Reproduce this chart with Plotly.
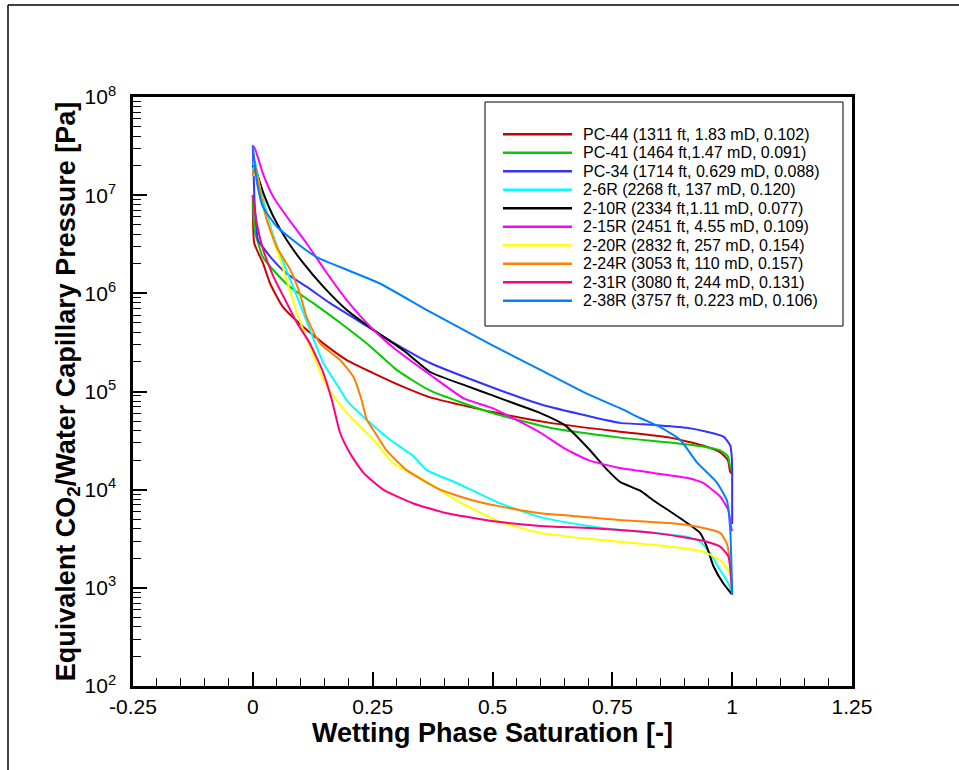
import plotly.graph_objects as go

# ---------------- data ----------------
names = [
    "PC-44 (1311 ft, 1.83 mD, 0.102)",
    "PC-41 (1464 ft,1.47 mD, 0.091)",
    "PC-34 (1714 ft, 0.629 mD, 0.088)",
    "2-6R (2268 ft, 137 mD, 0.120)",
    "2-10R (2334 ft,1.11 mD, 0.077)",
    "2-15R (2451 ft, 4.55 mD, 0.109)",
    "2-20R (2832 ft, 257 mD, 0.154)",
    "2-24R (3053 ft, 110 mD, 0.157)",
    "2-31R (3080 ft, 244 mD, 0.131)",
    "2-38R (3757 ft, 0.223 mD, 0.106)",
]
colors = ["#CC0000", "#00CC00", "#3333FF", "#00FFFF", "#000000",
          "#FF00FF", "#FFFF00", "#FF8000", "#FF0080", "#0080FF"]

sw_pc44 = [0, 0.003, 0.021, 0.036, 0.063, 0.105, 0.147, 0.196, 0.25, 0.313, 0.37, 0.5, 0.62, 0.766, 0.87, 0.939, 0.975, 0.991, 0.996, 1.0]
pc_pc44 = [1.0e7, 3.24e6, 2.04e6, 1.26e6, 7.24e5, 4.57e5, 3.09e5, 2.09e5, 1.55e5, 1.12e5, 8.71e4, 6.17e4, 4.79e4, 3.89e4, 3.39e4, 2.82e4, 2.40e4, 2.0e4, 1.51e4, 1.45e4]

sw_pc41 = [0, 0.004, 0.021, 0.042, 0.077, 0.126, 0.182, 0.245, 0.30, 0.37, 0.5, 0.62, 0.766, 0.87, 0.939, 0.975, 0.991, 0.996, 1.0]
pc_pc41 = [1.0e7, 4.37e6, 2.34e6, 1.74e6, 1.17e6, 7.94e5, 5.01e5, 2.88e5, 1.66e5, 1.02e5, 6.03e4, 4.27e4, 3.39e4, 3.02e4, 2.75e4, 2.51e4, 2.19e4, 1.70e4, 1.6e4]

sw_pc34 = [0, 0.004, 0.011, 0.021, 0.042, 0.071, 0.112, 0.161, 0.217, 0.272, 0.321, 0.37, 0.5, 0.6, 0.7, 0.766, 0.836, 0.905, 0.947, 0.982, 0.996, 0.999, 1.0, 1.0]
pc_pc34 = [3.16e7, 7.94e6, 3.47e6, 2.95e6, 2.19e6, 1.58e6, 1.17e6, 7.94e5, 5.37e5, 3.63e5, 2.63e5, 1.95e5, 1.10e5, 7.41e4, 5.62e4, 4.79e4, 4.57e4, 4.27e4, 3.89e4, 3.47e4, 2.82e4, 2.19e4, 1.58e4, 4.47e3]

sw_2_6r = [0, 0.004, 0.015, 0.029, 0.043, 0.064, 0.092, 0.119, 0.147, 0.182, 0.196, 0.238, 0.286, 0.335, 0.363, 0.425, 0.516, 0.6, 0.7, 0.766, 0.836, 0.905, 0.933, 0.954, 0.975, 0.992, 1.0]
pc_2_6r = [1.78e7, 2.29e7, 1.23e7, 6.61e6, 3.80e6, 2.04e6, 9.33e5, 4.27e5, 1.95e5, 1.05e5, 8.13e4, 5.13e4, 3.24e4, 2.19e4, 1.58e4, 1.17e4, 7.24e3, 5.25e3, 4.27e3, 3.89e3, 3.63e3, 3.31e3, 2.95e3, 2.24e3, 1.51e3, 1.12e3, 851]

sw_2_10r = [0, 0.01, 0.022, 0.043, 0.071, 0.105, 0.147, 0.196, 0.251, 0.314, 0.37, 0.45, 0.5, 0.55, 0.6, 0.65, 0.7, 0.74, 0.766, 0.808, 0.836, 0.870, 0.912, 0.933, 0.947, 0.961, 0.981, 1.0]
pc_2_10r = [2.0e7, 1.58e7, 1.05e7, 6.03e6, 3.47e6, 2.04e6, 1.17e6, 6.76e5, 4.27e5, 2.63e5, 1.58e5, 1.12e5, 9.12e4, 7.41e4, 6.03e4, 4.57e4, 2.63e4, 1.58e4, 1.20e4, 9.77e3, 7.76e3, 6.03e3, 4.37e3, 3.63e3, 2.63e3, 1.66e3, 1.12e3, 851]

sw_2_15r = [0, 0.003, 0.021, 0.043, 0.071, 0.112, 0.154, 0.196, 0.245, 0.30, 0.37, 0.44, 0.5, 0.55, 0.6, 0.65, 0.7, 0.766, 0.836, 0.905, 0.939, 0.975, 0.992, 0.999, 1.0]
pc_2_15r = [3.02e7, 3.09e7, 1.66e7, 9.55e6, 6.03e6, 3.24e6, 1.62e6, 8.51e5, 4.57e5, 2.63e5, 1.48e5, 8.51e4, 6.76e4, 5.13e4, 3.80e4, 2.63e4, 2.0e4, 1.66e4, 1.48e4, 1.32e4, 1.17e4, 8.51e3, 6.17e3, 3.89e3, 3.8e3]

sw_2_20r = [0, 0.008, 0.022, 0.043, 0.064, 0.092, 0.119, 0.147, 0.175, 0.21, 0.251, 0.293, 0.356, 0.425, 0.516, 0.6, 0.7, 0.766, 0.87, 0.94, 0.975, 0.992, 0.999, 1.0]
pc_2_20r = [1.58e7, 1.66e7, 7.59e6, 3.55e6, 1.74e6, 6.31e5, 2.88e5, 1.32e5, 8.13e4, 5.13e4, 3.24e4, 1.86e4, 1.26e4, 7.76e3, 4.68e3, 3.63e3, 3.16e3, 2.95e3, 2.63e3, 2.34e3, 1.91e3, 1.51e3, 1.12e3, 851]

sw_2_24r = [0, 0.004, 0.015, 0.029, 0.05, 0.078, 0.098, 0.112, 0.14, 0.182, 0.21, 0.227, 0.238, 0.251, 0.279, 0.321, 0.391, 0.46, 0.516, 0.6, 0.7, 0.766, 0.87, 0.94, 0.975, 0.989, 0.996, 1.0]
pc_2_24r = [1.58e7, 2.14e7, 1.12e7, 5.62e6, 2.95e6, 1.74e6, 1.0e6, 5.75e5, 3.09e5, 2.09e5, 1.41e5, 8.13e4, 5.13e4, 4.07e4, 2.51e4, 1.58e4, 1.0e4, 7.76e3, 6.76e3, 5.75e3, 5.25e3, 4.90e3, 4.57e3, 4.07e3, 3.63e3, 2.82e3, 1.78e3, 891]

sw_2_31r = [0, 0.008, 0.022, 0.043, 0.071, 0.092, 0.119, 0.147, 0.165, 0.182, 0.203, 0.231, 0.272, 0.335, 0.405, 0.516, 0.6, 0.7, 0.766, 0.836, 0.905, 0.947, 0.975, 0.992, 1.0]
pc_2_31r = [1.0e7, 5.25e6, 2.75e6, 1.48e6, 7.94e5, 5.01e5, 3.09e5, 1.55e5, 8.13e4, 3.80e4, 2.34e4, 1.48e4, 1.0e4, 7.24e3, 5.75e3, 4.68e3, 4.27e3, 4.07e3, 3.89e3, 3.63e3, 3.24e3, 2.95e3, 2.63e3, 2.09e3, 851]

sw_2_38r = [0, 0.008, 0.021, 0.05, 0.092, 0.133, 0.196, 0.265, 0.37, 0.5, 0.6, 0.7, 0.766, 0.808, 0.849, 0.891, 0.926, 0.967, 0.989, 0.996, 1.0]
pc_2_38r = [3.24e7, 1.41e7, 7.59e6, 4.79e6, 3.24e6, 2.34e6, 1.74e6, 1.26e6, 6.46e5, 2.95e5, 1.66e5, 9.33e4, 6.76e4, 5.37e4, 4.37e4, 3.24e4, 1.91e4, 1.20e4, 7.76e3, 3.89e3, 851]

sw_all = [sw_pc44, sw_pc41, sw_pc34, sw_2_6r, sw_2_10r, sw_2_15r, sw_2_20r, sw_2_24r, sw_2_31r, sw_2_38r]
pc_all = [pc_pc44, pc_pc41, pc_pc34, pc_2_6r, pc_2_10r, pc_2_15r, pc_2_20r, pc_2_24r, pc_2_31r, pc_2_38r]

x_tickvals = [-0.25, 0, 0.25, 0.5, 0.75, 1, 1.25]
x_ticktext = ["-0.25", "0", "0.25", "0.5", "0.75", "1", "1.25"]
y_tickvals = [1e2, 1e3, 1e4, 1e5, 1e6, 1e7, 1e8]
y_ticktext = ["10<sup>2</sup>", "10<sup>3</sup>", "10<sup>4</sup>", "10<sup>5</sup>",
              "10<sup>6</sup>", "10<sup>7</sup>", "10<sup>8</sup>"]

# ---------------- figure ----------------
W, H = 959, 770
L, R, T, B = 133, 107, 97, 84
pw, ph = W - L - R, H - T - B


def px_x(px):
    return (px - L) / pw


def px_y(py):
    return (H - B - py) / ph


fig = go.Figure()
for nm, c, sw, pc in zip(names, colors, sw_all, pc_all):
    fig.add_trace(go.Scatter(x=sw, y=pc, mode="lines", name=nm,
                             line=dict(color=c, width=2, shape="spline", smoothing=0.5),
                             showlegend=False))

x_minor = [round(-0.25 + 0.05 * i, 2) for i in range(31)]
x_minor = [v for v in x_minor if all(abs(v - t) > 1e-6 for t in x_tickvals)]
y_minor = [m * 10 ** e for e in range(2, 8) for m in range(2, 10)]

tick_font = dict(family="Liberation Sans, Arial, sans-serif", size=21, color="black")
title_font = dict(family="Liberation Sans, Arial, sans-serif", size=27, color="black", weight="bold")

fig.update_xaxes(range=[-0.25, 1.25], tickmode="array", tickvals=x_tickvals, ticktext=x_ticktext,
                 ticks="inside", ticklen=14, tickwidth=1.5, tickcolor="black",
                 minor=dict(tickmode="array", tickvals=x_minor, ticks="inside", ticklen=8,
                            tickwidth=1, tickcolor="black", showgrid=False),
                 showgrid=False, zeroline=False, showline=True, linewidth=2.5, linecolor="black",
                 mirror=True, tickfont=tick_font, ticklabelstandoff=0,
                 title=dict(text="Wetting Phase Saturation [-]", font=title_font, standoff=0))
fig.update_yaxes(type="log", range=[2, 8], tickmode="array", tickvals=y_tickvals, ticktext=y_ticktext,
                 ticks="inside", ticklen=14, tickwidth=1.5, tickcolor="black",
                 minor=dict(tickmode="array", tickvals=y_minor, ticks="inside", ticklen=8,
                            tickwidth=1, tickcolor="black", showgrid=False),
                 showgrid=False, zeroline=False, showline=True, linewidth=2.5, linecolor="black",
                 mirror=True, tickfont=tick_font, ticklabelstandoff=10,
                 title=dict(text="Equivalent CO<sub>2</sub>/Water Capillary Pressure [Pa]",
                            font=title_font, standoff=2))

shapes = []
annotations = []
# custom legend box
shapes.append(dict(type="rect", xref="paper", yref="paper",
                   x0=px_x(485), x1=px_x(843), y0=px_y(326), y1=px_y(102),
                   line=dict(color="black", width=1), fillcolor="white", layer="above"))
row0, dy = 134.3, 18.49
for i, (nm, c) in enumerate(zip(names, colors)):
    yy = px_y(row0 + i * dy)
    shapes.append(dict(type="line", xref="paper", yref="paper",
                       x0=px_x(503), x1=px_x(572), y0=yy, y1=yy,
                       line=dict(color=c, width=2.5), layer="above"))
    annotations.append(dict(xref="paper", yref="paper", x=px_x(581), y=yy, text=nm,
                            showarrow=False, xanchor="left", yanchor="middle",
                            font=dict(family="Liberation Sans, Arial, sans-serif", size=16, color="black")))

# outer page frame (top and left edges)
shapes.append(dict(type="line", xref="paper", yref="paper",
                   x0=px_x(8), x1=px_x(8), y0=px_y(5), y1=px_y(775),
                   line=dict(color="black", width=1.5)))
shapes.append(dict(type="line", xref="paper", yref="paper",
                   x0=px_x(8), x1=px_x(965), y0=px_y(5), y1=px_y(5),
                   line=dict(color="black", width=1.5)))

fig.update_layout(width=W, height=H, margin=dict(l=L, r=R, t=T, b=B),
                  paper_bgcolor="white", plot_bgcolor="white",
                  shapes=shapes, annotations=annotations, showlegend=False)

fig.write_html("out.html")
